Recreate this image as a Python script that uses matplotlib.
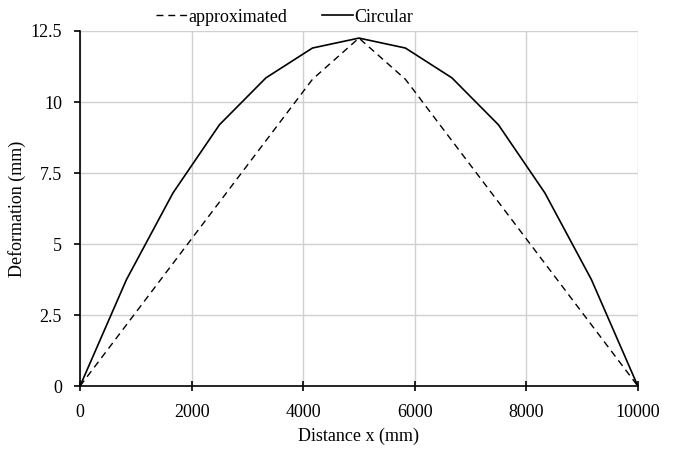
import matplotlib
matplotlib.use('Agg')
import matplotlib.pyplot as plt

# distance along member (mm)
x_circ = [0, 833, 1667, 2500, 3333, 4167, 5000, 5833, 6667, 7500, 8333, 9167, 10000]
y_circ = [0, 3.75, 6.8, 9.2, 10.85, 11.9, 12.25, 11.9, 10.85, 9.2, 6.8, 3.75, 0]

x_appr = [0, 4167, 5000, 5833, 10000]
y_appr = [0, 10.8, 12.25, 10.8, 0]

plt.rcParams['font.family'] = ['Liberation Serif', 'DejaVu Serif']
plt.rcParams['font.size'] = 13

fig, ax = plt.subplots(figsize=(6.75, 4.49), dpi=100)
fig.subplots_adjust(left=0.1185, right=0.945, top=0.931, bottom=0.14)

ax.plot(x_appr, y_appr, color='black', lw=1.0, ls=(0, (5, 3.5)), label='approximated')
ax.plot(x_circ, y_circ, color='black', lw=1.2, label='Circular')

ax.set_xlim(0, 10000)
ax.set_ylim(0, 12.5)
ax.set_xticks(range(0, 10001, 2000))
ax.set_yticks([0, 2.5, 5, 7.5, 10, 12.5])
ax.set_yticklabels(['0', '2.5', '5', '7.5', '10', '12.5'])
ax.grid(True, color='#d0d0d0', lw=1)
ax.set_axisbelow(True)

for s in ['top', 'right']:
    ax.spines[s].set_visible(False)
ax.spines['left'].set_linewidth(1.2)
ax.spines['bottom'].set_linewidth(1.2)
ax.tick_params(axis='x', direction='inout', length=7, width=1.2, pad=9)
ax.tick_params(axis='y', direction='out', length=4, width=1.2, pad=9)

ax.set_xlabel('Distance x (mm)', labelpad=5)
ax.set_ylabel('Deformation (mm)', labelpad=3)

fig.legend(loc='center', bbox_to_anchor=(0.422, 0.962), ncol=2, frameon=False,
           handlelength=1.7, handletextpad=0.1, columnspacing=1.9)

fig.savefig('out.png', dpi=100)
